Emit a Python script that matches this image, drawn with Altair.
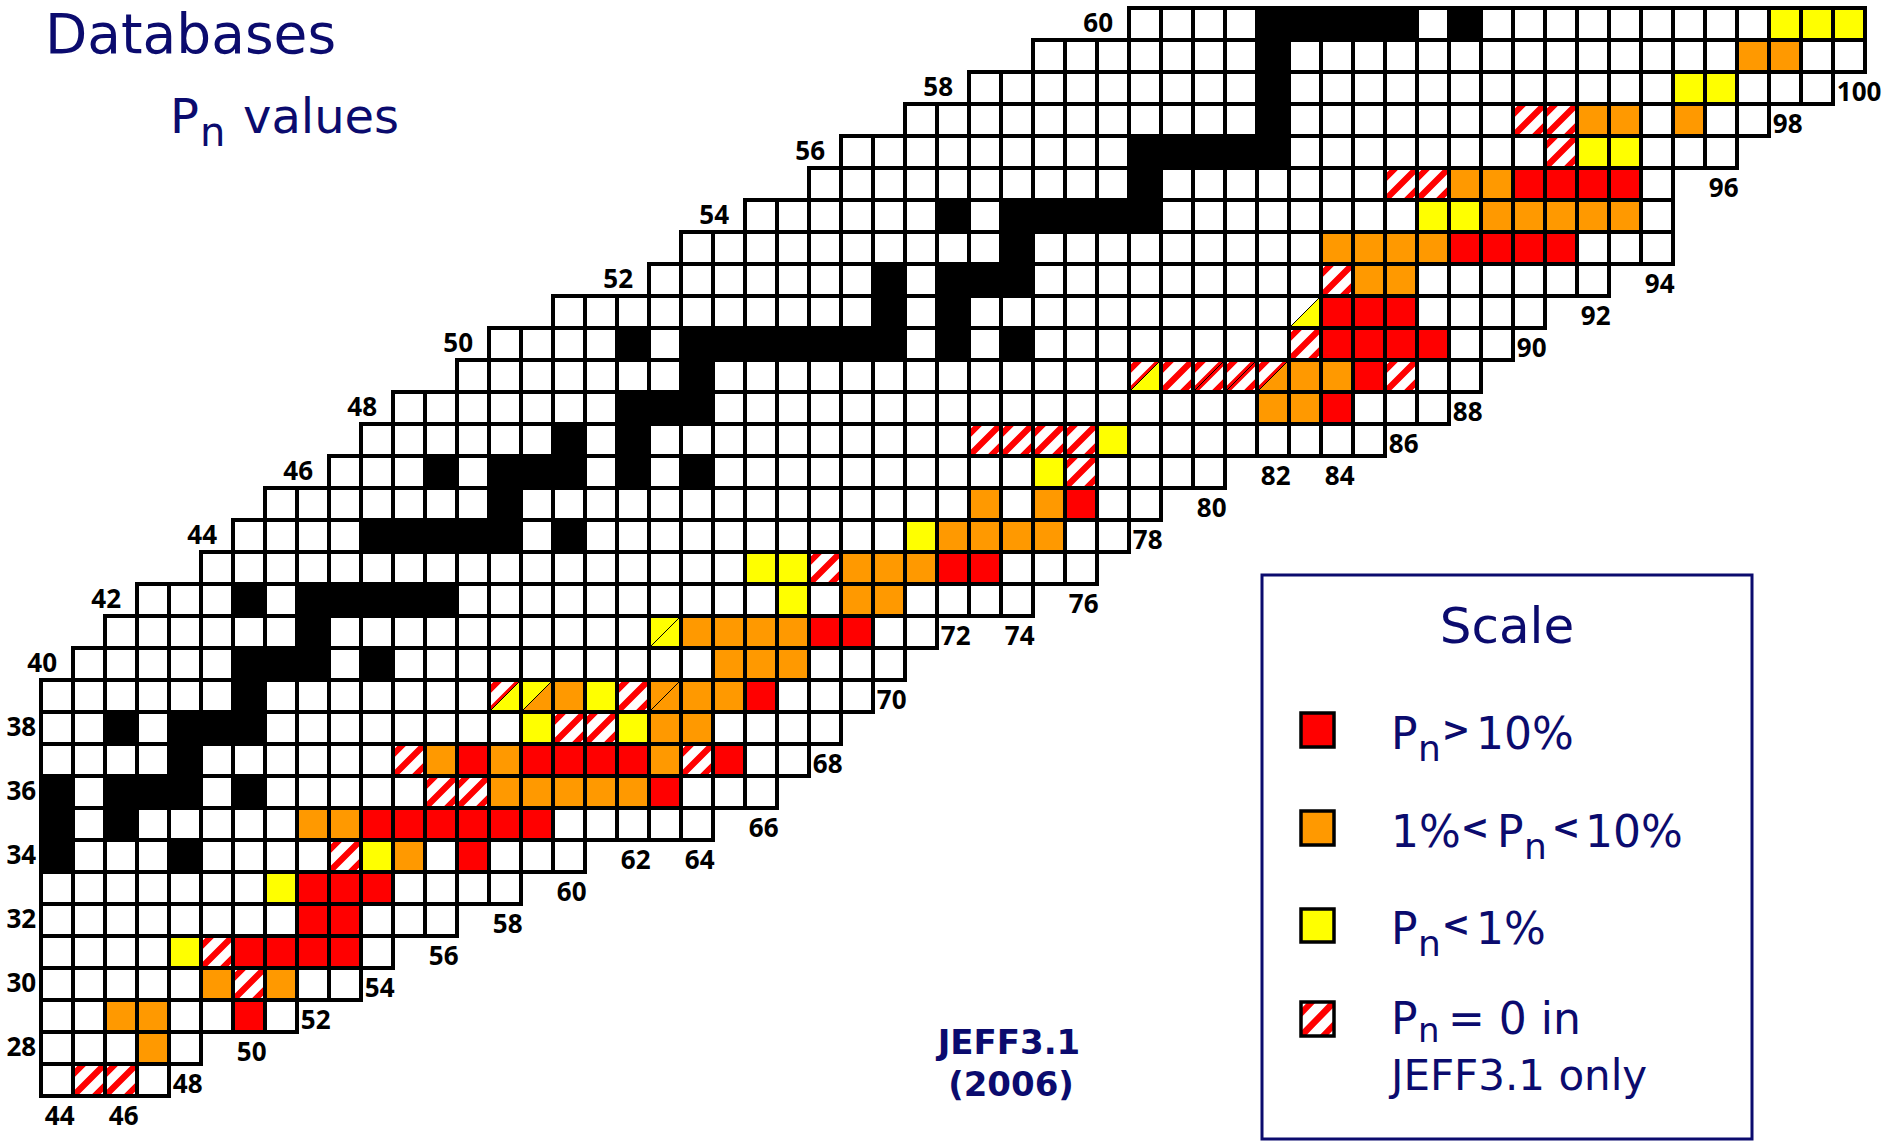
import altair as alt
import pandas as pd

# ---------------- data ----------------
# rows of the nuclide chart: proton number Z, first and last neutron number N drawn
ROW_Z = list(range(27, 61))
ROW_FIRST_N = [44, 44, 44, 44, 44, 44, 44, 44, 44, 44, 44, 44, 44,
               45, 46, 47, 49, 50, 51, 53, 54, 55, 57, 58, 60, 63,
               64, 66, 68, 69, 71, 73, 75, 78]
ROW_LAST_N = [47, 48, 51, 53, 54, 56, 58, 60, 64, 66, 67, 68, 69,
              70, 71, 74, 76, 77, 78, 80, 85, 87, 88, 89, 90, 92,
              94, 94, 94, 96, 97, 99, 100, 100]

# black cells (stable nuclei): Z -> list of N
STABLE = {34: [44, 48], 35: [44, 46], 36: [44, 46, 47, 48, 50], 37: [48],
          38: [46, 48, 49, 50], 39: [50], 40: [50, 51, 52, 54], 41: [52],
          42: [50, 52, 53, 54, 55, 56], 44: [54, 55, 56, 57, 58, 60], 45: [58],
          46: [56, 58, 59, 60, 62, 64], 47: [60, 62], 48: [62, 63, 64], 49: [64],
          50: [62, 64, 65, 66, 67, 68, 69, 70, 72, 74], 51: [70, 72],
          52: [70, 72, 73, 74], 53: [74], 54: [72, 74, 75, 76, 77, 78], 55: [78],
          56: [78, 79, 80, 81, 82], 57: [82], 58: [82], 59: [82],
          60: [82, 83, 84, 85, 86, 88]}
# Pn > 10 %
PN_HIGH = {29: [50], 31: [50, 51, 52, 53], 32: [52, 53], 33: [52, 53, 54], 34: [57],
           35: [54, 55, 56, 57, 58, 59], 36: [63], 37: [57, 59, 60, 61, 62, 65],
           39: [66], 41: [68, 69], 43: [72, 73], 45: [76], 48: [84], 49: [85],
           50: [84, 85, 86, 87], 51: [84, 85, 86], 53: [88, 89, 90, 91],
           55: [90, 91, 92, 93]}
# 1 % < Pn < 10 %
PN_MID = {28: [47], 29: [46, 47], 30: [49, 51], 34: [55], 35: [52, 53],
          36: [58, 59, 60, 61, 62], 37: [56, 58, 63], 38: [63, 64], 39: [60, 64, 65],
          40: [65, 66, 67], 41: [64, 65, 66, 67], 42: [69, 70], 43: [69, 70, 71],
          44: [72, 73, 74, 75], 45: [73, 75], 48: [82, 83], 49: [83, 84],
          52: [85, 86], 53: [84, 85, 86, 87], 54: [89, 90, 91, 92, 93], 55: [88, 89],
          57: [92, 93, 95], 59: [97, 98]}
# Pn < 1 %
PN_LOW = {31: [48], 33: [51], 34: [54], 38: [59, 62], 39: [61], 42: [67], 43: [66, 67],
          44: [71], 46: [75], 47: [77], 54: [87, 88], 56: [92, 93], 58: [95, 96],
          60: [98, 99, 100]}
# Pn = 0 in JEFF3.1 only (hatched)
PN_ZERO_JEFF = {27: [45, 46], 30: [50], 31: [49], 34: [53], 36: [56, 57], 37: [55, 64],
                38: [60, 61], 39: [62], 43: [68], 46: [76], 47: [73, 74, 75, 76],
                49: [79, 86], 50: [83], 52: [84], 55: [86, 87], 56: [91], 57: [90, 91]}
# diagonally split cells (upper-left part / lower-right part)
SPLIT = {39: {58: "HY", 59: "YO", 63: "OO"}, 41: {63: "YY"},
         49: {78: "HY", 80: "HH", 81: "HH", 82: "HO"}, 51: {83: "WY"}}

N_LABELS = list(range(44, 101, 2))
Z_LABELS = list(range(28, 61, 2))

CATS = ["white", "stable", "high", "mid", "low"]
COLORS = ["#ffffff", "#000000", "#ff0000", "#ff9900", "#ffff00"]

# ---------------- styling ----------------
W, R, O, Y, K = "#ffffff", "#ff0000", "#ff9900", "#ffff00", "#000000"
NAVY = "#0b0b6e"
FONT = "DejaVu Sans"
NUM_FONT = "Open Sans"
WIDTH, HEIGHT = 1893, 1141
CELL = 32.0
XS = alt.Scale(domain=[42.21875, 42.21875 + WIDTH / CELL], nice=False, zero=False)
YS = alt.Scale(domain=[60.75 - HEIGHT / CELL, 60.75], nice=False, zero=False)

HATCH = [(0.0, 0.09, W), (0.11, 0.22, R), (0.24, 0.42, W), (0.44, 0.56, R),
         (0.58, 0.76, W), (0.78, 0.89, R), (0.91, 1.0, W)]
PLAIN = {"W": [(0.0, 1.0, W)], "Y": [(0.0, 1.0, Y)], "O": [(0.0, 1.0, O)], "H": HATCH}


def clip(segs, a, b):
    out = []
    for s, e, c in segs:
        s2, e2 = max(s, a), min(e, b)
        if e2 > s2:
            out.append((s2, e2, c))
    return out


def split(upper, lower):
    return clip(PLAIN[upper], 0.0, 0.488) + [(0.488, 0.512, K)] + clip(PLAIN[lower], 0.512, 1.0)


def grad(segs):
    stops = []
    for s, e, c in segs:
        stops.append(alt.GradientStop(offset=s, color=c))
        stops.append(alt.GradientStop(offset=e, color=c))
    return alt.LinearGradient(gradient="linear", stops=stops, x1=0, y1=0, x2=1, y2=1)


GRADS = {"H": HATCH}
for key in ["HY", "YO", "OO", "WY", "YY", "HH", "HO"]:
    GRADS[key] = split(key[0], key[1])

# ---------------- tables ----------------
recs = []
for z, n0, n1 in zip(ROW_Z, ROW_FIRST_N, ROW_LAST_N):
    for n in range(n0, n1 + 1):
        cat = "white"
        if n in STABLE.get(z, []):
            cat = "stable"
        elif n in PN_HIGH.get(z, []):
            cat = "high"
        elif n in PN_MID.get(z, []):
            cat = "mid"
        elif n in PN_LOW.get(z, []):
            cat = "low"
        special = SPLIT.get(z, {}).get(n, "")
        if not special and n in PN_ZERO_JEFF.get(z, []):
            special = "H"
        recs.append(dict(N=n, Z=z, cat=cat, special=special,
                         x0=n - 0.5, x1=n + 0.5, y0=z - 0.5, y1=z + 0.5))
cells = pd.DataFrame(recs)

lowest = {}
for z, n0, n1 in zip(ROW_Z, ROW_FIRST_N, ROW_LAST_N):
    for n in range(n0, n1 + 1):
        lowest.setdefault(n, z)
nlab = pd.DataFrame({"label": [str(n) for n in N_LABELS],
                     "xp": [n - 0.5 + 0.12 for n in N_LABELS],
                     "yp": [lowest[n] - 1 - 0.15 for n in N_LABELS]})
first = dict(zip(ROW_Z, ROW_FIRST_N))
zlab = pd.DataFrame({"label": [str(z) for z in Z_LABELS],
                     "xp": [first[z] - 0.5 - (0.5 if z >= 40 else 0.15) for z in Z_LABELS],
                     "yp": Z_LABELS})

one = pd.DataFrame({"k": [0]})

enc = dict(x=alt.X("x0:Q", scale=XS, axis=None), x2="x1:Q",
           y=alt.Y("y0:Q", scale=YS, axis=None), y2="y1:Q")

layers = []
layers.append(alt.Chart(cells).mark_rect(stroke="black", strokeWidth=4).encode(
    fill=alt.Fill("cat:N", scale=alt.Scale(domain=CATS, range=COLORS), legend=None), **enc))
for key, segs in GRADS.items():
    layers.append(alt.Chart(cells).transform_filter(alt.datum.special == key)
                  .mark_rect(fill=grad(segs), stroke="black", strokeWidth=4).encode(**enc))

layers.append(alt.Chart(nlab).mark_text(font=NUM_FONT, fontSize=26, fontWeight="bold",
                                        align="left", baseline="middle", color="black").encode(
    x=alt.X("xp:Q", scale=XS, axis=None), y=alt.Y("yp:Q", scale=YS, axis=None), text="label:N"))
layers.append(alt.Chart(zlab).mark_text(font=NUM_FONT, fontSize=26, fontWeight="bold",
                                        align="right", baseline="middle", color="black").encode(
    x=alt.X("xp:Q", scale=XS, axis=None), y=alt.Y("yp:Q", scale=YS, axis=None), text="label:N"))


def txt(text, x, y, size, color=NAVY, weight="normal", align="left", font=FONT):
    return alt.Chart(one).mark_text(text=text, font=font, fontSize=size, fontWeight=weight,
                                    color=color, align=align, baseline="alphabetic").encode(
        x=alt.value(x), y=alt.value(y))


def box(x0, x1, y0, y1, fill, stroke="black", sw=3.5):
    return alt.Chart(one).mark_rect(fill=fill, stroke=stroke, strokeWidth=sw).encode(
        x=alt.value(x0), x2=alt.value(x1), y=alt.value(y0), y2=alt.value(y1))


# titles
layers += [txt("Databases", 45, 53, 55),
           txt("P", 170, 133, 48), txt("n", 200, 146, 40), txt("values", 243, 133, 48)]

# JEFF label
layers += [txt("JEFF3.1", 1009, 1054, 34, weight="bold", align="center"),
           txt("(2006)", 1011, 1096, 34, weight="bold", align="center")]

# legend box
layers.append(box(1262, 1752, 575, 1139, "white", NAVY, 3))
layers.append(txt("Scale", 1507, 643, 50, align="center"))
layers += [box(1301, 1334, 713, 747, R), box(1301, 1334, 811, 845, O),
           box(1301, 1334, 909, 942, Y)]
layers.append(alt.Chart(one).mark_rect(fill=grad(HATCH), stroke="black", strokeWidth=3.5).encode(
    x=alt.value(1301), x2=alt.value(1334), y=alt.value(1002), y2=alt.value(1036)))

layers += [txt("P", 1391, 749, 44), txt("n", 1418, 761, 36),
           txt(">", 1456, 741, 34, weight="bold", align="center"),
           txt("10%", 1476, 749, 44)]
layers += [txt("1%", 1391, 847, 44),
           txt("<", 1475, 839, 34, weight="bold", align="center"),
           txt("P", 1497, 847, 44), txt("n", 1524, 859, 36),
           txt("<", 1566, 839, 34, weight="bold", align="center"),
           txt("10%", 1585, 847, 44)]
layers += [txt("P", 1391, 944, 44), txt("n", 1418, 956, 36),
           txt("<", 1456, 936, 34, weight="bold", align="center"),
           txt("1%", 1476, 944, 44)]
layers += [txt("P", 1391, 1034, 44), txt("n", 1418, 1042, 34), txt("= 0 in", 1448, 1034, 44),
           txt("JEFF3.1 only", 1391, 1090, 42)]

chart = alt.layer(*layers).properties(
    width=WIDTH, height=HEIGHT, padding=0, background="white",
    autosize=alt.AutoSizeParams(type="none")
).configure_view(stroke=None)

chart.save("out.html", embed_options={"renderer": "svg", "actions": False})
